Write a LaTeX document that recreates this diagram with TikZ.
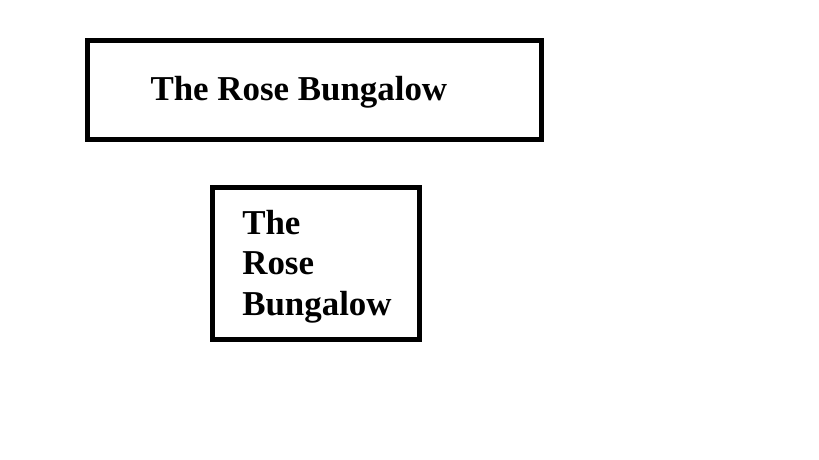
\documentclass[tikz,border=0pt]{standalone}
\usepackage{fontspec}
\setmainfont{Liberation Serif}
\begin{document}
\begin{tikzpicture}[x=1pt,y=-1pt,
  frame/.style={draw=black,line width=5pt,rectangle,inner sep=0pt},
  label/.style={font=\fontsize{34.9pt}{40.5pt}\selectfont\bfseries,inner sep=0pt,outer sep=0pt}]
\useasboundingbox (0,0) rectangle (819,460);
\node[frame,minimum width=453.5pt,minimum height=98.5pt] (b1) at (314.25,89.75) {};
\node[frame,minimum width=207.2pt,minimum height=152pt] (b2) at (316.1,263) {};
\node[label,anchor=base west] (t1) at (150.5,100.7) {The Rose Bungalow};
\node[label,anchor=base west,align=left] (t2) at (242.3,315.3) {The\\Rose\\Bungalow};
\end{tikzpicture}
\end{document}
